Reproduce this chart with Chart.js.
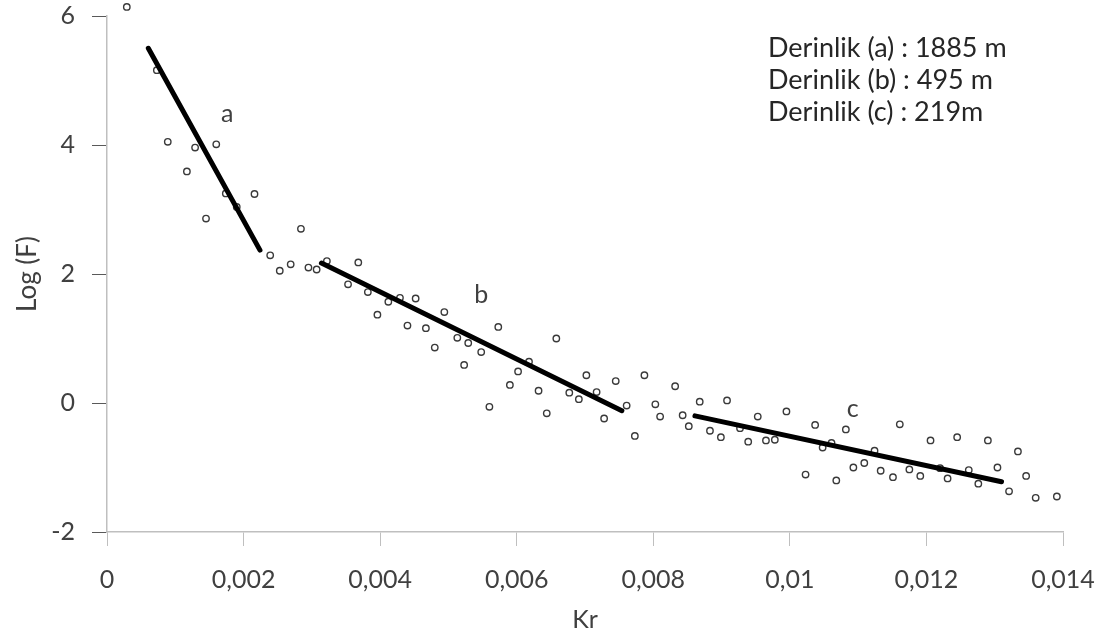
<!DOCTYPE html>
<html>
<head>
<meta charset="utf-8">
<script src="https://cdn.jsdelivr.net/npm/chart.js@4.4.1/dist/chart.umd.min.js"></script>
<style>
html,body{margin:0;padding:0;background:#fff;}
#wrap{width:1110px;height:641px;position:relative;}
</style>
</head>
<body>
<div id="wrap"><canvas id="c" width="1110" height="641"></canvas></div>
<script>
// ---- data ----
const kr = [0.00029,0.00073,0.00089,0.00117,0.00129,0.00145,0.00160,0.00174,0.00190,0.00216,
0.00239,0.00253,0.00269,0.00284,0.00295,0.00307,0.00322,0.00353,0.00368,0.00382,
0.00396,0.00412,0.00429,0.00440,0.00452,0.00467,0.00480,0.00494,0.00513,0.00523,
0.00529,0.00548,0.00560,0.00573,0.00590,0.00602,0.00618,0.00632,0.00644,0.00658,
0.00677,0.00691,0.00702,0.00717,0.00728,0.00745,0.00761,0.00773,0.00787,0.00803,
0.00810,0.00832,0.00843,0.00852,0.00868,0.00883,0.00899,0.00908,0.00927,0.00939,
0.00953,0.00965,0.00978,0.00995,0.01023,0.01037,0.01048,0.01061,0.01068,0.01082,
0.01093,0.01109,0.01124,0.01133,0.01151,0.01161,0.01175,0.01191,0.01206,0.01220,
0.01231,0.01245,0.01262,0.01276,0.01290,0.01304,0.01321,0.01334,0.01346,0.01360,0.01391];
const logF = [6.14,5.16,4.05,3.59,3.96,2.86,4.01,3.25,3.04,3.24,
2.29,2.05,2.15,2.70,2.10,2.07,2.20,1.84,2.18,1.72,
1.37,1.57,1.63,1.20,1.62,1.16,0.86,1.41,1.01,0.59,
0.93,0.79,-0.06,1.18,0.28,0.49,0.64,0.19,-0.16,1.00,
0.16,0.06,0.43,0.17,-0.24,0.34,-0.04,-0.51,0.43,-0.02,
-0.21,0.26,-0.19,-0.36,0.02,-0.43,-0.53,0.04,-0.39,-0.60,
-0.21,-0.58,-0.57,-0.13,-1.11,-0.34,-0.69,-0.62,-1.20,-0.41,
-1.00,-0.93,-0.74,-1.05,-1.15,-0.33,-1.03,-1.13,-0.58,-1.01,
-1.17,-0.53,-1.04,-1.25,-0.58,-1.00,-1.37,-0.75,-1.13,-1.47,-1.45];
const lineAX = [0.000605, 0.00224];
const lineAY = [5.50, 2.37];
const lineBX = [0.00314, 0.00754];
const lineBY = [2.17, -0.12];
const lineCX = [0.00861, 0.0131];
const lineCY = [-0.20, -1.22];
const segNames = ['a','b','c'];
const segLabelX = [0.00176, 0.00548, 0.01092];
const segLabelY = [4.48, 1.67, -0.09];
const depthTexts = ['Derinlik (a) : 1885 m','Derinlik (b) : 495 m','Derinlik (c) : 219m'];
const xTickValues = [0,0.002,0.004,0.006,0.008,0.01,0.012,0.014];
const xTickLabels = ['0','0,002','0,004','0,006','0,008','0,01','0,012','0,014'];
const yTickValues = [-2,0,2,4,6];
const yTickLabels = ['-2','0','2','4','6'];

const FONT = 'Lato';
const pts = kr.map((x,i)=>({x:x,y:logF[i]}));
const seg = (xs,ys)=>xs.map((x,i)=>({x:x,y:ys[i]}));
const lineStyle = {showLine:true,borderColor:'#000',borderWidth:5,borderCapStyle:'round',pointRadius:0,pointHoverRadius:0,order:0,fill:false};

// let markers just above the top of the axis range (as in the original) still be drawn
const edgePoints = {
  id:'edgePoints',
  beforeDatasetsDraw(chart){
    this._saved = chart.chartArea;
    chart.chartArea = Object.assign({}, this._saved, {top: this._saved.top - 20});
  },
  afterDatasetsDraw(chart){
    chart.chartArea = this._saved;
  }
};

const annot = {
  id:'annot',
  afterDatasetsDraw(chart){
    const ctx = chart.ctx, xs = chart.scales.x, ys = chart.scales.y;
    ctx.save();
    ctx.fillStyle = '#404040';
    ctx.font = '25px ' + FONT;
    ctx.textAlign = 'center'; ctx.textBaseline = 'middle';
    segNames.forEach((n,i)=>ctx.fillText(n, xs.getPixelForValue(segLabelX[i]), ys.getPixelForValue(segLabelY[i])));
    ctx.fillStyle = '#262626';
    ctx.font = '27px ' + FONT;
    ctx.textAlign = 'left';
    depthTexts.forEach((t,i)=>ctx.fillText(t, xs.left + 661, ys.top + 32 + i*32));
    ctx.restore();
  }
};

new Chart(document.getElementById('c'), {
  type:'scatter',
  data:{datasets:[
    Object.assign({data:seg(lineAX,lineAY)}, lineStyle),
    Object.assign({data:seg(lineBX,lineBY)}, lineStyle),
    Object.assign({data:seg(lineCX,lineCY)}, lineStyle),
    {data:pts, pointRadius:3.2, pointBorderWidth:1.4, pointBorderColor:'#3a3a3a', pointBackgroundColor:'#fff', showLine:false, order:1, clip:false}
  ]},
  options:{
    responsive:false, animation:false, events:[],
    layout:{padding:{top:16,right:47,left:0,bottom:0}},
    plugins:{legend:{display:false},tooltip:{enabled:false}},
    scales:{
      x:{type:'linear',min:0,max:0.014,
        afterBuildTicks(s){ s.ticks = xTickValues.map(v=>({value:v})); },
        afterFit(s){ s.height = 109; s.paddingLeft = 0; s.paddingRight = 0; },
        ticks:{callback:(v,i)=>xTickLabels[i], color:'#404040', font:{family:FONT,size:25}, padding:19, maxRotation:0, autoSkip:false},
        grid:{drawOnChartArea:false, drawTicks:true, tickLength:14, color:'#bfbfbf', tickColor:'#bfbfbf'},
        border:{color:'#bfbfbf', width:1.5},
        title:{display:true, text:'Kr', color:'#404040', font:{family:FONT,size:25}, padding:{top:0,bottom:6}}
      },
      y:{type:'linear',min:-2,max:6,
        afterBuildTicks(s){ s.ticks = yTickValues.map(v=>({value:v})); },
        afterFit(s){ s.width = 107; s.paddingTop = 0; s.paddingBottom = 0; },
        ticks:{callback:(v,i)=>yTickLabels[i], color:'#404040', font:{family:FONT,size:25}, padding:17},
        grid:{drawOnChartArea:false, drawTicks:true, tickLength:15, color:'#808080', tickColor:'#595959'},
        border:{color:'#bfbfbf', width:1.5},
        title:{display:true, text:'Log (F)', color:'#404040', font:{family:FONT,size:26}, padding:{top:12,bottom:0}}
      }
    }
  },
  plugins:[edgePoints, annot]
});
</script>
</body>
</html>
